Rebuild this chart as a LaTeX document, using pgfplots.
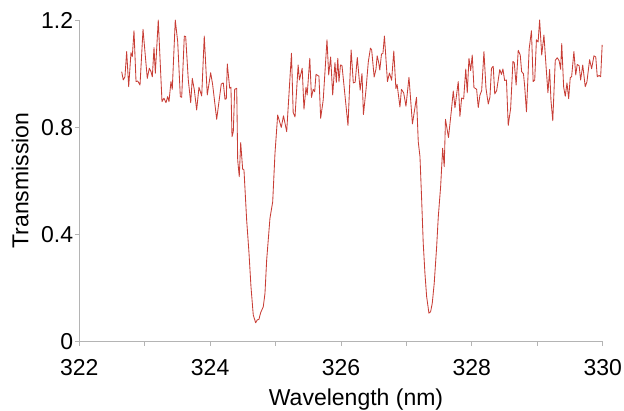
\documentclass[border=0pt]{standalone}
\usepackage{fontspec}
\setmainfont{Liberation Sans}
\usepackage{pgfplots}
\pgfplotsset{compat=1.18}
\definecolor{linered}{RGB}{200,62,54}
\definecolor{axgray}{RGB}{180,180,180}
\begin{document}
\begin{tikzpicture}
\begin{axis}[
  scale only axis, width=523.4pt, height=321.3pt,
  xmin=322, xmax=330, ymin=0, ymax=1.2,
  axis lines*=left,
  axis line style={axgray, line width=0.8pt},
  every tick/.style={axgray, line width=0.8pt},
  tick align=outside,
  major tick length=4.5pt, minor tick length=4.5pt,
  xtick={322,324,326,328,330},
  minor xtick={323,325,327,329},
  ytick={0,0.4,0.8,1.2},
  /pgf/number format/assume math mode=true,
  tick label style={font=\fontsize{23}{27}\selectfont, text=black},
  yticklabel style={inner sep=1.5pt},
  xticklabel style={inner sep=1.5pt, yshift=-12pt},
  label style={font=\fontsize{23}{27}\selectfont, text=black},
  xlabel={Wavelength (nm)},
  ylabel={Transmission},
  xlabel style={at={(axis description cs:0.5287,-0.2)}, anchor=base},
  ylabel style={at={(axis description cs:-0.0974,0.5)}, anchor=base, rotate=0},
  clip=false,
]
\addplot[linered, line width=0.85pt, line join=round] coordinates {
(322.648,1.007) (322.672,0.976) (322.698,0.988) (322.724,1.082) (322.755,0.951)
(322.790,1.078) (322.810,1.063) (322.836,1.160) (322.867,0.970) (322.893,0.972)
(322.928,0.957) (322.974,1.165) (323.039,0.982) (323.070,1.020) (323.096,1.007)
(323.116,0.988) (323.142,1.097) (323.162,1.001) (323.207,1.200) (323.264,0.895)
(323.294,0.908) (323.325,0.891) (323.351,0.914) (323.371,0.895) (323.401,0.970)
(323.421,0.941) (323.467,1.200) (323.504,1.119) (323.544,0.914) (323.565,0.911)
(323.605,1.140) (323.626,1.138) (323.666,0.976) (323.703,0.891) (323.727,0.982)
(323.758,0.939) (323.794,0.864) (323.829,0.949) (323.871,0.916) (323.910,1.140)
(323.956,0.920) (324.008,1.003) (324.039,0.957) (324.100,0.829) (324.170,0.961)
(324.201,0.965) (324.227,0.904) (324.247,0.906) (324.262,1.036) (324.299,0.945)
(324.318,0.949) (324.334,0.764) (324.354,0.783) (324.375,0.941) (324.406,0.945)
(324.421,0.677) (324.445,0.615) (324.467,0.742) (324.497,0.643) (324.517,0.640)
(324.558,0.453) (324.594,0.329) (324.624,0.204) (324.659,0.098) (324.696,0.069)
(324.720,0.080) (324.746,0.082) (324.772,0.107) (324.812,0.129) (324.838,0.179)
(324.864,0.304) (324.914,0.459) (324.956,0.521) (324.991,0.702) (325.032,0.845)
(325.087,0.799) (325.121,0.842) (325.170,0.783) (325.243,1.076) (325.269,0.855)
(325.297,0.838) (325.345,1.032) (325.365,0.976) (325.407,1.020) (325.434,0.867)
(325.465,0.949) (325.483,0.920) (325.523,1.057) (325.549,0.911) (325.575,0.941)
(325.598,0.932) (325.618,0.997) (325.663,0.990) (325.689,0.833) (325.728,0.901)
(325.786,1.126) (325.812,0.995) (325.842,1.062) (325.873,0.920) (325.908,1.041)
(325.928,0.967) (325.951,1.057) (325.969,0.969) (325.992,1.032) (326.015,1.030)
(326.107,0.806) (326.155,1.088) (326.188,0.965) (326.217,0.968) (326.249,1.060)
(326.293,0.938) (326.321,1.000) (326.343,0.847) (326.382,0.939) (326.417,1.043)
(326.450,1.095) (326.469,1.088) (326.507,0.987) (326.535,1.017) (326.553,1.066)
(326.576,1.041) (326.593,1.013) (326.619,1.073) (326.641,1.075) (326.664,1.140)
(326.710,0.970) (326.741,1.002) (326.774,0.975) (326.807,1.084) (326.839,0.944)
(326.858,0.959) (326.901,0.875) (326.924,0.941) (326.958,0.928) (326.993,0.878)
(327.039,0.986) (327.092,0.812) (327.154,0.911) (327.181,0.745) (327.207,0.690)
(327.233,0.528) (327.257,0.366) (327.283,0.254) (327.309,0.167) (327.344,0.105)
(327.370,0.111) (327.395,0.142) (327.425,0.217) (327.462,0.353) (327.487,0.465)
(327.523,0.578) (327.554,0.721) (327.578,0.652) (327.597,0.829) (327.643,0.761)
(327.688,0.864) (327.716,0.935) (327.742,0.872) (327.792,0.970) (327.818,0.840)
(327.844,0.909) (327.875,0.905) (327.907,1.017) (327.930,0.928) (327.956,1.057)
(327.982,1.011) (328.006,1.069) (328.032,0.948) (328.073,0.941) (328.098,0.873)
(328.124,0.920) (328.150,0.936) (328.185,1.082) (328.216,0.945) (328.251,0.886)
(328.277,0.913) (328.300,1.020) (328.327,1.027) (328.350,0.924) (328.379,0.936)
(328.427,1.015) (328.453,0.997) (328.475,1.017) (328.501,0.974) (328.529,0.976)
(328.556,0.806) (328.593,0.870) (328.628,1.045) (328.648,1.041) (328.677,0.957)
(328.709,1.087) (328.740,1.069) (328.761,1.007) (328.789,0.999) (328.807,0.954)
(328.835,0.857) (328.876,1.092) (328.911,1.160) (328.937,0.970) (328.961,0.976)
(328.987,1.126) (329.013,1.118) (329.036,1.200) (329.068,1.069) (329.102,1.144)
(329.137,1.017) (329.163,0.928) (329.189,1.015) (329.209,0.901) (329.237,0.824)
(329.275,1.049) (329.305,1.059) (329.334,1.048) (329.357,1.016) (329.374,1.112)
(329.403,0.950) (329.428,0.915) (329.454,0.965) (329.480,0.906) (329.504,0.985)
(329.525,0.988) (329.560,1.082) (329.588,0.995) (329.611,1.034) (329.640,1.029)
(329.663,0.976) (329.695,1.032) (329.733,0.951) (329.759,0.969) (329.800,1.052)
(329.831,1.018) (329.866,1.066) (329.894,1.062) (329.917,0.988) (329.946,0.993)
(329.969,0.988) (329.992,1.107)
};
\end{axis}
\pgfresetboundingbox
\path (-79.3pt,-69.7pt) rectangle (544.7pt,341.3pt);
\end{tikzpicture}
\end{document}
